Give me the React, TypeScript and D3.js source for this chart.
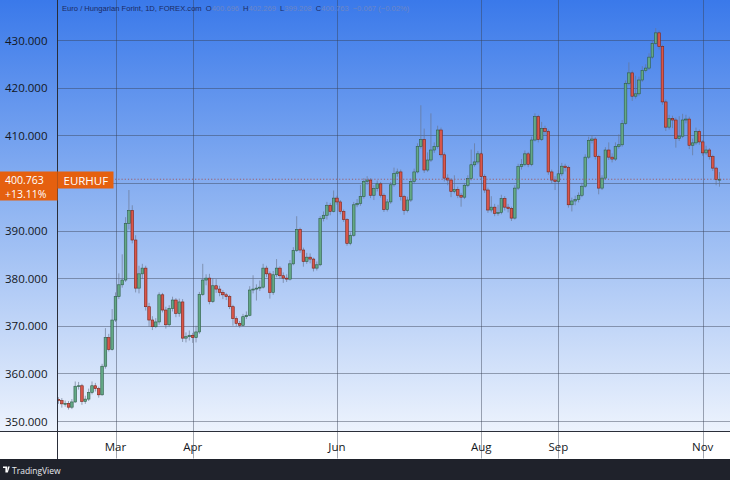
import React from 'react';
import * as d3 from 'd3';

const firstOpen = 354.5;
const closes = [
  354.3, 353.6, 353.7, 352.9, 354.0, 357.3, 357.4, 354.1, 354.6, 356.0,
  357.4, 356.8, 355.5, 361.5, 367.5, 365.0, 371.2, 376.1, 378.6, 379.6,
  391.5, 394.2, 388.0, 377.9, 380.9, 382.1, 374.0, 371.2, 369.8, 370.8,
  376.5, 373.3, 370.2, 373.6, 375.4, 372.6, 375.0, 367.4, 367.7, 368.0,
  367.5, 368.7, 376.6, 379.6, 380.0, 375.1, 378.4, 377.7, 377.0, 376.5,
  376.1, 374.0, 371.5, 370.5, 370.1, 371.9, 372.2, 377.5, 377.7, 377.9,
  378.1, 382.1, 380.9, 377.0, 380.7, 382.1, 380.5, 380.0, 379.8, 383.0,
  385.8, 390.2, 385.9, 383.5, 384.4, 384.0, 382.1, 382.8, 392.5, 393.2,
  395.3, 394.0, 396.8, 396.0, 394.0, 392.3, 387.3, 389.0, 395.4, 395.7,
  397.1, 400.3, 400.6, 397.4, 398.8, 399.8, 397.4, 394.4, 396.0, 399.6,
  402.0, 402.3, 397.1, 394.2, 396.4, 400.3, 402.3, 407.6, 409.1, 402.7,
  404.8, 406.9, 407.6, 411.1, 405.9, 401.0, 400.6, 398.2, 398.6, 397.4,
  397.0, 399.5, 400.9, 403.8, 404.4, 406.1, 401.3, 398.5, 394.3, 394.9,
  393.6, 393.8, 396.7, 394.9, 394.6, 392.6, 398.9, 403.4, 403.9, 406.1,
  403.9, 409.0, 413.9, 409.1, 411.4, 410.8, 402.3, 400.6, 400.3, 401.9,
  403.5, 403.2, 395.4, 396.2, 396.5, 397.4, 399.3, 405.4, 408.9, 409.2,
  405.5, 398.9, 401.0, 406.9, 405.4, 405.0, 407.6, 408.0, 412.5, 420.9,
  423.1, 418.2, 418.7, 421.6, 423.6, 424.1, 426.4, 429.3, 431.5, 428.6,
  417.0, 411.7, 413.5, 413.2, 409.3, 409.8, 413.2, 413.4, 407.9, 408.4,
  410.8, 408.6, 406.3, 406.9, 405.5, 403.1, 400.696, 400.763,
];
const highs = [
  355.0, 354.8, 354.3, 354.2, 354.6, 358.3, 358.2, 357.8, 355.3, 356.8,
  358.3, 358.0, 357.2, 362.0, 369.5, 368.3, 373.5, 377.0, 381.0, 385.0,
  392.8, 398.5, 395.3, 389.0, 382.6, 383.0, 382.6, 374.8, 372.0, 371.6,
  377.0, 376.9, 374.0, 374.3, 376.1, 375.8, 375.7, 375.6, 368.6, 369.0,
  368.5, 370.0, 377.1, 383.0, 380.8, 380.9, 380.0, 379.8, 378.4, 377.5,
  376.9, 376.5, 374.4, 372.0, 371.0, 372.5, 373.0, 378.3, 380.6, 378.7,
  379.5, 383.0, 382.6, 381.4, 381.5, 384.0, 382.5, 381.2, 380.8, 383.8,
  386.5, 393.0, 390.6, 386.4, 385.3, 385.2, 384.3, 383.5, 393.0, 394.0,
  396.0, 395.8, 398.4, 397.3, 396.4, 394.4, 392.6, 389.6, 396.0, 396.6,
  399.6, 401.0, 401.4, 401.0, 399.5, 400.5, 400.2, 397.8, 396.6, 400.2,
  403.2, 403.0, 402.8, 397.5, 397.1, 400.9, 403.0, 408.3, 416.3, 411.4,
  406.4, 414.6, 408.5, 412.0, 411.6, 406.4, 401.8, 401.0, 401.6, 399.2,
  397.9, 400.0, 401.6, 407.0, 408.3, 406.7, 406.5, 401.8, 399.0, 397.2,
  395.6, 395.4, 397.5, 397.2, 395.6, 395.0, 399.5, 404.0, 405.0, 406.8,
  406.5, 409.7, 414.6, 414.3, 412.8, 412.0, 411.2, 402.8, 401.4, 402.7,
  404.2, 404.0, 403.6, 396.9, 397.3, 398.0, 400.0, 406.0, 409.7, 410.0,
  409.6, 405.9, 401.6, 407.5, 408.5, 406.2, 408.5, 410.2, 413.2, 421.5,
  425.3, 423.6, 422.5, 422.3, 424.5, 424.9, 427.2, 430.0, 432.5, 432.0,
  429.0, 417.5, 414.3, 414.1, 413.7, 414.0, 414.5, 414.3, 413.9, 409.3,
  411.6, 411.2, 409.0, 407.8, 407.3, 405.9, 403.4, 402.269,
];
const lows = [
  353.6, 352.8, 353.0, 352.4, 352.5, 353.8, 356.6, 353.4, 353.6, 354.2,
  355.6, 356.2, 354.9, 355.3, 361.0, 364.6, 364.8, 370.8, 375.6, 378.0,
  379.2, 390.2, 387.3, 377.0, 376.8, 379.8, 373.2, 369.8, 369.1, 369.5,
  370.2, 372.8, 369.4, 369.8, 373.0, 371.8, 371.9, 366.6, 366.5, 366.9,
  366.4, 366.5, 368.3, 376.3, 378.5, 374.5, 374.8, 376.9, 376.2, 375.6,
  375.4, 373.5, 370.0, 369.9, 369.6, 369.9, 371.4, 372.0, 376.8, 375.3,
  377.3, 377.8, 380.2, 375.7, 376.5, 380.2, 379.9, 379.0, 379.2, 379.5,
  382.7, 385.5, 385.3, 382.4, 383.0, 383.1, 381.4, 381.6, 382.5, 391.9,
  392.3, 393.2, 393.8, 395.4, 393.4, 391.8, 386.8, 386.9, 388.7, 394.9,
  395.2, 396.7, 399.6, 396.8, 396.4, 398.2, 396.9, 393.9, 394.0, 395.6,
  399.2, 401.3, 396.3, 393.3, 393.8, 396.0, 399.9, 402.0, 407.2, 402.1,
  402.3, 404.4, 406.3, 407.2, 405.3, 400.3, 399.5, 397.0, 397.8, 396.8,
  395.0, 396.6, 399.1, 400.5, 403.4, 403.9, 400.8, 397.9, 393.7, 393.8,
  393.0, 393.1, 393.4, 394.2, 393.8, 392.0, 392.3, 398.5, 402.8, 403.5,
  403.3, 403.5, 408.7, 408.5, 408.8, 409.9, 401.7, 399.9, 398.5, 399.9,
  401.4, 402.4, 394.8, 394.0, 395.3, 395.9, 397.0, 399.0, 405.0, 408.3,
  404.9, 397.6, 398.5, 400.6, 404.8, 404.3, 404.6, 407.2, 407.6, 412.2,
  420.5, 417.2, 417.7, 418.3, 421.2, 423.2, 423.7, 426.0, 429.0, 428.0,
  416.4, 410.9, 411.2, 411.5, 407.4, 408.8, 409.4, 412.5, 407.1, 405.8,
  408.0, 408.0, 405.7, 405.9, 404.9, 402.5, 399.5, 399.208,
];

const monthLabels = ['Mar', 'Apr', 'Jun', 'Aug', 'Sep', 'Nov'];
const monthBarIndex = [17, 40, 83, 126, 149, 192];
const yTicks = [350, 360, 370, 380, 390, 400, 410, 420, 430];

const titleText = 'Euro / Hungarian Forint, 1D, FOREX.com';
const ohlcKeys = ['O', 'H', 'L', 'C'];
const ohlcValues = ['400.696', '402.269', '399.208', '400.763'];
const changeText = '−0.067 (−0.02%)';
const symbol = 'EURHUF';
const lastPrice = 400.763;
const pctText = '+13.11%';

const FONT = "'Open Sans', 'DejaVu Sans', sans-serif";

export default function App() {
  const W = 730;
  const H = 480;
  const plotLeft = 57.5;
  const plotBottom = 431.5;
  const footerTop = 459;

  const x = d3.scaleLinear().domain([17, 192]).range([115.5, 702.7]);
  const y = d3.scaleLinear().domain([350, 430]).range([421, 40]);

  const candles = closes.map((c, i) => ({
    i,
    o: i === 0 ? firstOpen : closes[i - 1],
    h: highs[i],
    l: lows[i],
    c,
  }));
  const bw = 2.6;
  const py = y(lastPrice);
  const boxTop = 171.5;
  const boxH = 29;
  // axis labels hidden behind the last-price box are not drawn (as in the reference)
  const visibleTicks = yTicks.filter((t) => y(t) < boxTop - 8 || y(t) > boxTop + boxH + 8);

  return (
    <div style={{ position: 'absolute', left: 0, top: 0 }}>
      <svg width={W} height={H} style={{ display: 'block' }}>
        <defs>
          <linearGradient id="bg" x1="0" y1="0" x2="0" y2="1">
            <stop offset="0" stopColor="#3a79ea" />
            <stop offset="0.5" stopColor="#93b7f2" />
            <stop offset="1" stopColor="#edf3fd" />
          </linearGradient>
          <clipPath id="plotClip">
            <rect x={plotLeft + 0.5} y={0} width={W - plotLeft} height={plotBottom} />
          </clipPath>
        </defs>
        <rect x={0} y={0} width={W} height={plotBottom} fill="url(#bg)" />
        <rect x={0} y={plotBottom} width={W} height={footerTop - plotBottom} fill="#ffffff" />
        <rect x={0} y={footerTop} width={W} height={H - footerTop} fill="#1f222b" />

        {/* grid */}
        <g stroke="rgba(55,65,85,0.45)" strokeWidth={1}>
          {yTicks.map((t) => (
            <line key={'h' + t} x1={plotLeft} x2={W} y1={Math.round(y(t)) + 0.5} y2={Math.round(y(t)) + 0.5} />
          ))}
          {monthBarIndex.map((m, k) => (
            <line key={'v' + k} x1={Math.round(x(m)) + 0.5} x2={Math.round(x(m)) + 0.5} y1={0} y2={plotBottom + 27} />
          ))}
        </g>

        {/* candles */}
        <g clipPath="url(#plotClip)">
          {candles.map((d) => {
            const cx = x(d.i);
            const up = d.c >= d.o;
            const top = y(Math.max(d.o, d.c));
            const bot = y(Math.min(d.o, d.c));
            const hgt = Math.max(0.9, bot - top);
            return (
              <g key={d.i}>
                <line x1={cx} x2={cx} y1={y(d.h)} y2={y(d.l)} stroke="#66738a" strokeOpacity={0.7} strokeWidth={0.9} />
                <rect
                  x={cx - bw / 2}
                  y={top}
                  width={bw}
                  height={hgt}
                  fill={up ? '#63a886' : '#d9564a'}
                  stroke={up ? '#2f5d48' : '#7c2418'}
                  strokeWidth={0.6}
                />
              </g>
            );
          })}
        </g>

        {/* price line */}
        <line x1={plotLeft} x2={W} y1={py} y2={py} stroke="#9a5f6c" strokeWidth={1} strokeDasharray="1.2 2" />

        {/* axes borders */}
        <line x1={plotLeft} x2={plotLeft} y1={0} y2={footerTop} stroke="#2a2e39" strokeWidth={1} />
        <line x1={0} x2={W} y1={plotBottom} y2={plotBottom} stroke="#2a2e39" strokeWidth={1} />

        {/* y labels */}
        <g fontFamily={FONT} fontSize={11.5} fill="#131722">
          {visibleTicks.map((t) => (
            <text key={'yl' + t} x={5} y={y(t)} dominantBaseline="central">
              {d3.format('.3f')(t)}
            </text>
          ))}
        </g>

        {/* x labels */}
        <g fontFamily={FONT} fontSize={11.5} fill="#131722" textAnchor="middle">
          {monthLabels.map((m, k) => (
            <text key={'xl' + m} x={x(monthBarIndex[k])} y={446} dominantBaseline="central">
              {m}
            </text>
          ))}
        </g>

        {/* last price labels */}
        <rect x={0} y={boxTop} width={plotLeft} height={boxH} fill="#e5600f" />
        <text x={5} y={183.5} fontFamily={FONT} fontSize={10.5} fill="#ffffff">
          {d3.format('.3f')(lastPrice)}
        </text>
        <text x={5} y={197.5} fontFamily={FONT} fontSize={10.5} fill="#ffffff">
          {pctText}
        </text>
        <rect x={plotLeft} y={boxTop} width={56} height={17} fill="#e5600f" />
        <text x={63.5} y={184.5} fontFamily={FONT} fontSize={11.5} fill="#ffffff">
          {symbol}
        </text>

        {/* title */}
        <text x={62} y={8} fontFamily="'Liberation Sans', Arial, sans-serif" fontSize={7.6} fill="#1b2b63" dominantBaseline="central">
          <tspan>{titleText}</tspan>
          {ohlcKeys.map((k, j) => (
            <React.Fragment key={k}>
              <tspan dx={4}>{k}</tspan>
              <tspan fill="#6d86c6">{ohlcValues[j]}</tspan>
            </React.Fragment>
          ))}
          <tspan dx={4} fill="#6d86c6">{changeText}</tspan>
        </text>

        {/* footer logo */}
        <path d="M3,466.5 h4 v6 h-1.6 v-4.4 h-2.4 z M7.8,466.5 h2 l-2,6 h-1 z" fill="#ffffff" />
        <text x={12} y={470} fontFamily={FONT} fontSize={8.5} fill="#e8eaee" dominantBaseline="central">
          TradingView
        </text>
      </svg>
    </div>
  );
}
